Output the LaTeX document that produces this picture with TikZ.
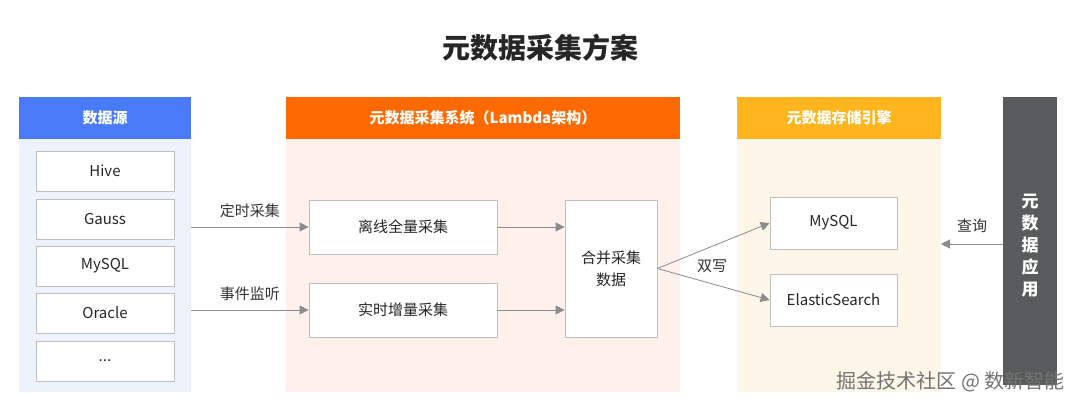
\documentclass[tikz,border=0pt]{standalone}
\usepackage{fontspec}
\setmainfont{Noto Sans CJK SC}
\usetikzlibrary{arrows.meta}
\definecolor{srcblue}{HTML}{4A7BF7}
\definecolor{srcbg}{HTML}{EEF2FD}
\definecolor{sysorange}{HTML}{FF6A00}
\definecolor{sysbg}{HTML}{FEF1EC}
\definecolor{storeyellow}{HTML}{FFB61E}
\definecolor{storebg}{HTML}{FEF6E8}
\definecolor{appgray}{HTML}{595C5C}
\definecolor{edge}{HTML}{8C8C8C}
\tikzset{
  header/.style={text=white, font=\fontsize{15}{18}\selectfont\bfseries},
  item/.style={draw=black!25, fill=white, line width=0.8pt, font=\fontsize{15}{18}\selectfont, text=black!85},
  flow/.style={draw=edge, line width=0.8pt, -{Triangle[length=9pt,width=9pt]}},
  tag/.style={font=\fontsize{15}{18}\selectfont, text=black!80}
}
\begin{document}
\begin{tikzpicture}[x=1pt, y=-1pt]
\useasboundingbox (0, 0) rectangle (1080, 414);
\fill[white] (0, 0) rectangle (1080, 414);

\node[font=\fontsize{28}{32}\selectfont\bfseries, text=black!85] (title) at (540, 48) {元数据采集方案};

% columns
\fill[srcbg] (19, 139) rectangle (191, 392);
\fill[srcblue] (19, 97) rectangle (191, 139);
\node[header] (srchead) at (105, 118) {数据源};

\fill[sysbg] (286, 139) rectangle (680, 392);
\fill[sysorange] (286, 97) rectangle (680, 139);
\node[header] (syshead) at (483, 118) {元数据采集系统（Lambda架构）};

\fill[storebg] (737, 139) rectangle (941, 392);
\fill[storeyellow] (737, 97) rectangle (941, 139);
\node[header] (storehead) at (839, 118) {元数据存储引擎};

\fill[appgray] (1003, 97) rectangle (1057, 385);
\node[header, font=\fontsize{17}{22}\selectfont\bfseries, align=center] (app) at (1030, 246) {元\\数\\据\\应\\用};

% sources
\foreach \name/\y/\txt in {hive/171/Hive, gauss/219/Gauss, mysqlsrc/266/MySQL, oracle/313/Oracle, more/361/{...}}
  \node[item, minimum width=138pt, minimum height=40pt] (\name) at (105, \y) {\txt};

% collection
\node[item, minimum width=188pt, minimum height=54pt] (offline) at (403, 227) {离线全量采集};
\node[item, minimum width=188pt, minimum height=54pt] (realtime) at (403, 310) {实时增量采集};
\node[item, minimum width=92pt, minimum height=137pt, align=center] (merge) at (611, 268.5) {合并采集\\[4pt]数据};

% storage
\node[item, minimum width=127pt, minimum height=52pt] (mysql) at (833.5, 223) {MySQL};
\node[item, minimum width=127pt, minimum height=52pt] (es) at (833.5, 300) {ElasticSearch};

% connectors
\coordinate (tsrc) at (191, 227);
\coordinate (esrc) at (191, 310);
\draw[flow] (tsrc) -- (offline.west) node[tag, midway, above=6pt] {定时采集};
\draw[flow] (esrc) -- (realtime.west) node[tag, midway, above=6pt] {事件监听};
\draw[flow] (offline.east) -- (merge.west |- offline.east);
\draw[flow] (realtime.east) -- (merge.west |- realtime.east);
\draw[flow] (merge.east) -- (mysql.west);
\draw[flow] (merge.east) -- (es.west);
\node[tag] (dual) at (712, 266) {双写};
\coordinate (qsrc) at (1003, 244);
\coordinate (qdst) at (941, 244);
\draw[flow] (qsrc) -- (qdst) node[tag, midway, above=8pt] {查询};

\node[font=\fontsize{20}{24}\selectfont, text=black!55, anchor=east] (mark) at (1068, 382) {掘金技术社区 @ 数新智能};
\end{tikzpicture}
\end{document}
